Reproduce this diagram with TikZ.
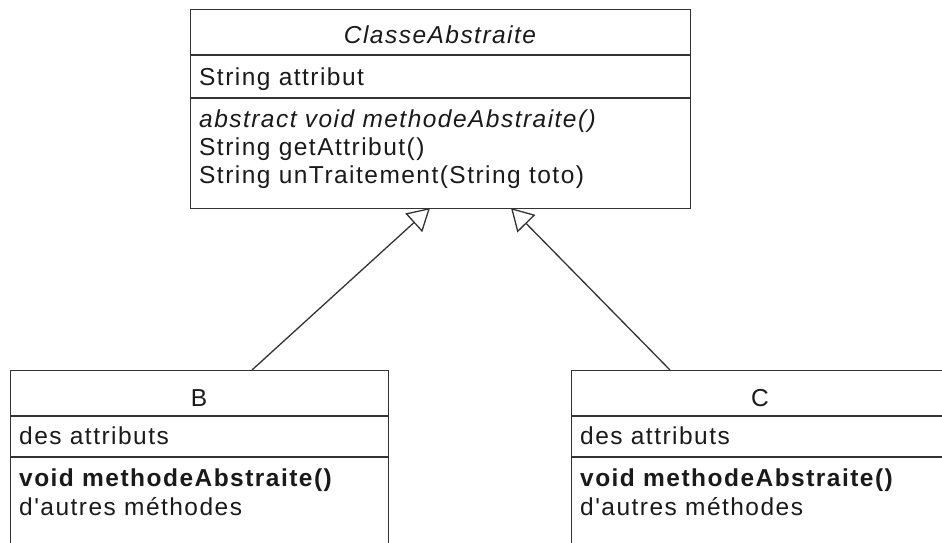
\documentclass[tikz,border=0pt]{standalone}
\usepackage{fontspec}
\newfontfamily\umlfam{Liberation Sans}[LetterSpace=6]
\usetikzlibrary{arrows.meta}
\definecolor{umlline}{HTML}{333333}
\definecolor{umltext}{HTML}{1A1A1A}
\newcommand\umlsize{\umlfam\fontsize{24.5}{28}\selectfont}
\begin{document}
\begin{tikzpicture}[x=1pt,y=-1pt,
  box/.style={draw=umlline, line width=1.3pt, fill=white, inner sep=0pt, anchor=north west},
  sep/.style={draw=umlline, line width=1.3pt},
  txt/.style={inner sep=0pt, anchor=base west, font=\umlsize, text=umltext},
  ttl/.style={inner sep=0pt, anchor=base, font=\umlsize, text=umltext},
  inh/.style={draw=umlline, line width=1.3pt, -{Triangle[open, length=22pt, width=25pt, line width=1.3pt]}}]
\useasboundingbox (0,0) rectangle (942,543);
\clip (0,0) rectangle (942,543);
\fill[white] (0,0) rectangle (942,543);
% abstract class
\node[box, minimum width=500pt, minimum height=199pt] (abs) at (190,9) {};
\draw[sep] (190,55) -- (690,55);
\draw[sep] (190,98) -- (690,98);
\node[ttl, font=\umlsize\itshape] (absT) at (440,44) {ClasseAbstraite};
\node[txt] (absA) at (199,85) {String attribut};
\node[txt, font=\umlsize\itshape] (absM1) at (199,127) {abstract void methodeAbstraite()};
\node[txt] (absM2) at (199,155) {String getAttribut()};
\node[txt] (absM3) at (199,183) {String unTraitement(String toto)};
% class B
\node[box, minimum width=378pt, minimum height=220pt] (B) at (10,370) {};
\draw[sep] (10,416) -- (388,416);
\draw[sep] (10,457) -- (388,457);
\node[ttl] (BT) at (199,406) {B};
\node[txt] (BA) at (19,444) {des attributs};
\node[txt, font=\umlsize\bfseries] (BM1) at (19,486) {void methodeAbstraite()};
\node[txt] (BM2) at (19,515) {d'autres méthodes};
% class C
\node[box, minimum width=378pt, minimum height=220pt] (C) at (571,370) {};
\draw[sep] (571,416) -- (949,416);
\draw[sep] (571,457) -- (949,457);
\node[ttl] (CT) at (760,406) {C};
\node[txt] (CA) at (580,444) {des attributs};
\node[txt, font=\umlsize\bfseries] (CM1) at (580,486) {void methodeAbstraite()};
\node[txt] (CM2) at (580,515) {d'autres méthodes};
% inheritance
\coordinate (tipL) at (430,208);
\coordinate (tipR) at (511,208);
\coordinate (fromB) at (252,370);
\coordinate (fromC) at (670,370);
\draw[inh] (fromB) -- (tipL);
\draw[inh] (fromC) -- (tipR);
\end{tikzpicture}
\end{document}
